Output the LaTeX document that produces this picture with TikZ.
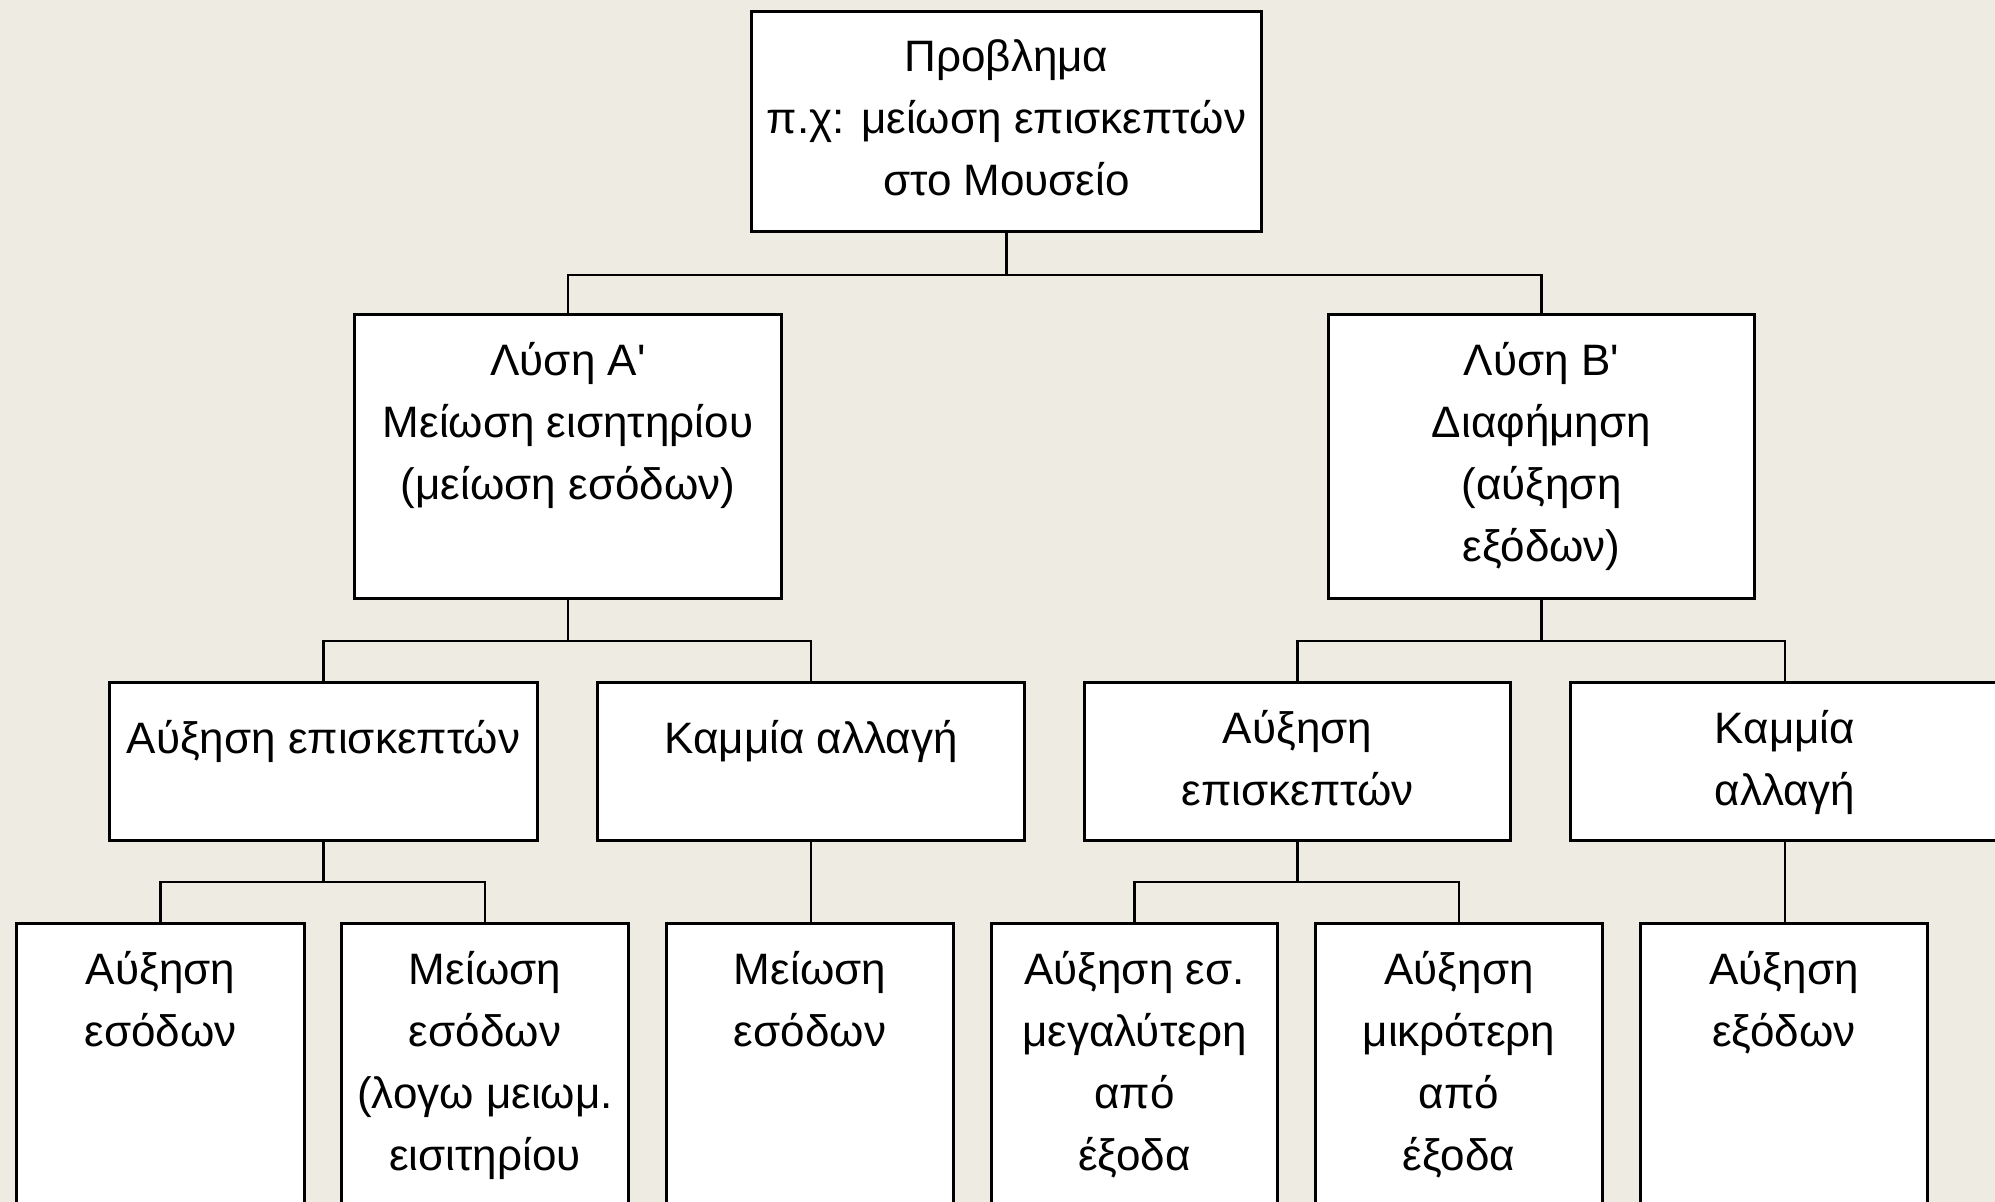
\documentclass[tikz,border=0pt]{standalone}
\usepackage{fontspec}
\setmainfont{Liberation Sans}[Ligatures=TeXOff]
\definecolor{bg}{RGB}{238,236,226}
\tikzset{
  box/.style={draw=black, fill=white, line width=3pt, rectangle, inner sep=0pt, anchor=north west},
  lbl/.style={anchor=north, inner sep=0pt, align=center, font=\fontsize{44}{62}\selectfont, execute at begin node=\strut},
  conn/.style={draw=black, line width=2.3pt}
}
\newcommand{\mkbox}[6]{%
  \node[box, minimum width=#4-#2, minimum height=#5-#3] (#1) at (#2,#3) {};
  \node[lbl] (#1T) at ([yshift=-29pt]#1.north) {#6};
}
\begin{document}
\begin{tikzpicture}[x=1pt,y=-1pt]
\useasboundingbox (0,0) rectangle (1995,1202);
\clip (0,0) rectangle (1995,1202);
\fill[bg] (0,0) rectangle (1995,1202);

\mkbox{root}{750}{10}{1260}{230}{Προβλημα\\π.χ: μείωση επισκεπτών\\στο Μουσείο}
\mkbox{A}{353}{313}{780}{597}{Λύση Α'\\Μείωση εισητηρίου\\(μείωση εσόδων)}
\mkbox{B}{1327}{313}{1753}{597}{Λύση Β'\\Διαφήμηση\\(αύξηση\\εξόδων)}

\mkbox{Aa}{108}{681}{536}{839}{Αύξηση επισκεπτών}
\mkbox{Ab}{596}{681}{1023}{839}{Καμμία αλλαγή}
\mkbox{Ba}{1083}{681}{1509}{839}{Αύξηση\\επισκεπτών}
\mkbox{Bb}{1569}{681}{1998}{839}{Καμμία\\αλλαγή}

\mkbox{Aa1}{15}{922}{303}{1220}{Αύξηση\\εσόδων}
\mkbox{Aa2}{340}{922}{627}{1220}{Μείωση\\εσόδων\\(λογω μειωμ.\\εισιτηρίου}
\mkbox{Ab1}{665}{922}{952}{1220}{Μείωση\\εσόδων}
\mkbox{Ba1}{990}{922}{1276}{1220}{Αύξηση εσ.\\μεγαλύτερη\\από\\έξοδα}
\mkbox{Ba2}{1314}{922}{1601}{1220}{Αύξηση\\μικρότερη\\από\\έξοδα}
\mkbox{Bb1}{1639}{922}{1926}{1220}{Αύξηση\\εξόδων}

% connectors
\draw[conn] (root.south) -- ++(0,42) -| (A.north);
\draw[conn] (root.south) -- ++(0,42) -| (B.north);
\draw[conn] (A.south) -- ++(0,41) -| (Aa.north);
\draw[conn] (A.south) -- ++(0,41) -| (Ab.north);
\draw[conn] (B.south) -- ++(0,41) -| (Ba.north);
\draw[conn] (B.south) -- ++(0,41) -| (Bb.north);
\draw[conn] (Aa.south) -- ++(0,40) -| (Aa1.north);
\draw[conn] (Aa.south) -- ++(0,40) -| (Aa2.north);
\draw[conn] (Ab.south) -- (Ab.south |- Ab1.north);
\draw[conn] (Ba.south) -- ++(0,40) -| (Ba1.north);
\draw[conn] (Ba.south) -- ++(0,40) -| (Ba2.north);
\draw[conn] (Bb.south) -- (Bb.south |- Bb1.north);
\end{tikzpicture}
\end{document}
